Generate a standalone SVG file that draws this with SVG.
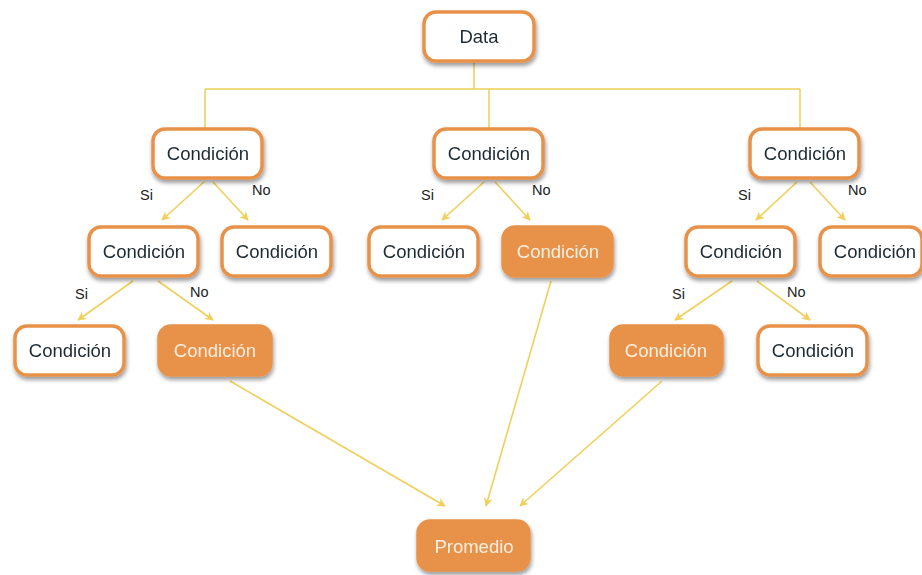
<svg xmlns="http://www.w3.org/2000/svg" width="922" height="575" viewBox="0 0 922 575">
<defs>
<filter id="sh" x="-20%" y="-20%" width="140%" height="150%">
<feDropShadow dx="1" dy="3" stdDeviation="2" flood-color="#000" flood-opacity="0.4"/>
</filter>
<marker id="ah" viewBox="0 0 10 10" refX="9" refY="5" markerWidth="9" markerHeight="9" orient="auto" markerUnits="userSpaceOnUse">
<path d="M0,0 L10,5 L0,10 L3,5 Z" fill="#f0cf5a"/>
</marker>
<style>
.w rect{fill:#fff;stroke:#e8924a;stroke-width:3.5}
.f rect{fill:#e8924a;stroke:#e8924a;stroke-width:3.5}
text{font-family:"Liberation Sans",Arial,sans-serif}
.w text{font-size:18.5px;fill:#1e2a33;text-anchor:middle}
.f text{font-size:18.5px;fill:#fcefe2;text-anchor:middle}
.lbl{font-size:14.5px;fill:#222}
.tree{stroke:#ecd05a;stroke-width:1.5;fill:none}
.arr{stroke:#f0cf5a;stroke-width:1.6;fill:none;marker-end:url(#ah)}
</style>
</defs>
<rect width="922" height="575" fill="#fff"/>
<g id="connectors">
<path class="tree" d="M474,62 V89 M205,89 H800 M205,89 V128 M489,89 V128 M800,89 V128"/>
<line class="arr" x1="204" y1="182" x2="162" y2="220"/>
<line class="arr" x1="213" y1="182" x2="248" y2="220"/>
<line class="arr" x1="484" y1="182" x2="442" y2="220"/>
<line class="arr" x1="495" y1="182" x2="530" y2="220"/>
<line class="arr" x1="797" y1="182" x2="756" y2="220"/>
<line class="arr" x1="810" y1="182" x2="845" y2="220"/>
<line class="arr" x1="133" y1="281" x2="78" y2="320"/>
<line class="arr" x1="158" y1="281" x2="213" y2="320"/>
<line class="arr" x1="732" y1="281" x2="675" y2="320"/>
<line class="arr" x1="757" y1="281" x2="810" y2="320"/>
<line class="arr" x1="230" y1="381" x2="445" y2="506"/>
<line class="arr" x1="551" y1="281" x2="486" y2="506"/>
<line class="arr" x1="662" y1="381" x2="520" y2="506"/>
<text class="lbl" x="140" y="200">Si</text>
<text class="lbl" x="252" y="195">No</text>
<text class="lbl" x="421" y="200">Si</text>
<text class="lbl" x="532" y="195">No</text>
<text class="lbl" x="738" y="200">Si</text>
<text class="lbl" x="848" y="195">No</text>
<text class="lbl" x="75" y="299">Si</text>
<text class="lbl" x="190" y="297">No</text>
<text class="lbl" x="672" y="299">Si</text>
<text class="lbl" x="787" y="297">No</text>
</g>
<g id="data" class="w" filter="url(#sh)"><rect x="424" y="12" width="110" height="49" rx="12"/><text x="479" y="43">Data</text></g>
<g id="c1" class="w" filter="url(#sh)"><rect x="153" y="129" width="109" height="49" rx="12"/><text x="208" y="160">Condición</text></g>
<g id="c2" class="w" filter="url(#sh)"><rect x="434" y="129" width="109" height="49" rx="12"/><text x="489" y="160">Condición</text></g>
<g id="c3" class="w" filter="url(#sh)"><rect x="750" y="129" width="109" height="49" rx="12"/><text x="805" y="160">Condición</text></g>
<g id="c11" class="w" filter="url(#sh)"><rect x="89" y="227" width="109" height="49" rx="12"/><text x="144" y="258">Condición</text></g>
<g id="c12" class="w" filter="url(#sh)"><rect x="222" y="227" width="109" height="49" rx="12"/><text x="277" y="258">Condición</text></g>
<g id="c21" class="w" filter="url(#sh)"><rect x="369" y="227" width="109" height="49" rx="12"/><text x="424" y="258">Condición</text></g>
<g id="c22" class="f" filter="url(#sh)"><rect x="503" y="227" width="109" height="49" rx="12"/><text x="558" y="258">Condición</text></g>
<g id="c31" class="w" filter="url(#sh)"><rect x="686" y="227" width="109" height="49" rx="12"/><text x="741" y="258">Condición</text></g>
<g id="c32" class="w" filter="url(#sh)"><rect x="820" y="227" width="102" height="49" rx="12"/><text x="875" y="258">Condición</text></g>
<g id="c111" class="w" filter="url(#sh)"><rect x="15" y="326" width="109" height="49" rx="12"/><text x="70" y="357">Condición</text></g>
<g id="c112" class="f" filter="url(#sh)"><rect x="159" y="326" width="112" height="49" rx="12"/><text x="215" y="357">Condición</text></g>
<g id="c311" class="f" filter="url(#sh)"><rect x="611" y="326" width="111" height="49" rx="12"/><text x="666" y="357">Condición</text></g>
<g id="c312" class="w" filter="url(#sh)"><rect x="758" y="326" width="109" height="49" rx="12"/><text x="813" y="357">Condición</text></g>
<g id="promedio" class="f" filter="url(#sh)"><rect x="418" y="521" width="111" height="49" rx="12"/><text x="474" y="553">Promedio</text></g>
</svg>
